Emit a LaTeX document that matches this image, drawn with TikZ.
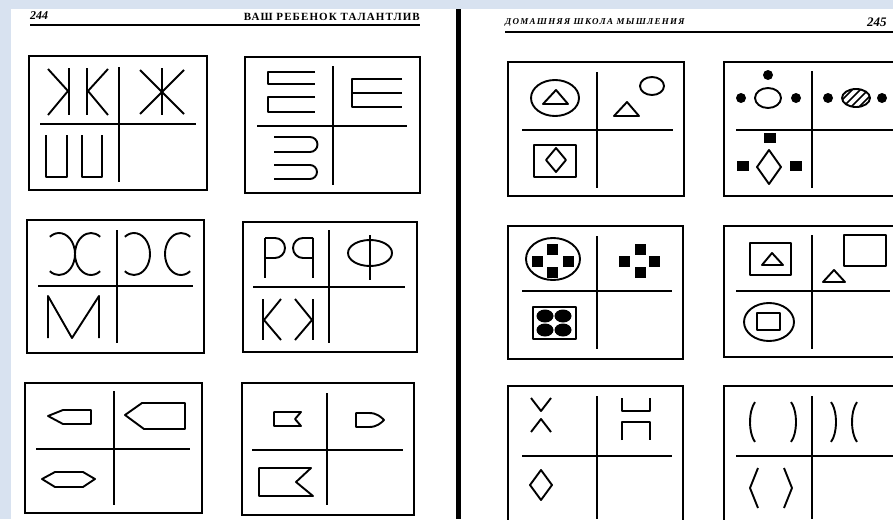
\documentclass[tikz,border=0pt]{standalone}
\usepackage{fontspec}
\setmainfont{Liberation Serif}
\usetikzlibrary{positioning}

\definecolor{slideblue}{RGB}{216,226,240}

\tikzset{
  boxframe/.style={line width=2.2pt},
  divider/.style={line width=2pt},
  glyph/.style={line width=1.9pt, line join=round},
  blob/.style={fill=black},
  headrule/.style={line width=1.8pt},
  headfont/.style={inner sep=0pt, font=\fontsize{11}{12}\selectfont\bfseries\addfontfeature{LetterSpace=10}},
}

\begin{document}
\begin{tikzpicture}[x=1pt, y=-1pt]
    \useasboundingbox (0,0) rectangle (893,519);
    \clip (0,0) rectangle (893,519);

    % Slide background, the two scanned pages and the spine
    \fill[slideblue] (0,0) rectangle (893,519);
    \fill[white] (11,9) rectangle (893,519);
    \fill[black] (456,9) rectangle (461,519);

    % Running heads
    \node[headfont, anchor=west, font=\fontsize{12}{13}\selectfont\bfseries\itshape] (pageleft) at (30,16) {244};
    \node[headfont, anchor=east] (headleft) at (420,17) {ВАШ РЕБЕНОК ТАЛАНТЛИВ};
    \draw[headrule] (30,25) -- (420,25);
    \node[headfont, anchor=west, font=\fontsize{9}{10}\selectfont\bfseries\itshape\addfontfeature{LetterSpace=14}] (headright) at (505,22) {ДОМАШНЯЯ ШКОЛА МЫШЛЕНИЯ};
    \node[headfont, anchor=west, font=\fontsize{13}{14}\selectfont\bfseries\itshape] (pageright) at (867,22) {245};
    \draw[headrule] (505,32) -- (893,32);

    % Card 1: halves of Zh
    \draw[boxframe] (29,56) rectangle (207,190);
    \draw[divider] (40,124) -- (196,124);
    \draw[divider] (119,67) -- (119,182);
    \draw[glyph] (69,68) -- (69,115);
    \draw[glyph] (48,69) -- (68,91) -- (48,115);
    \draw[glyph] (87,68) -- (87,115);
    \draw[glyph] (108,69) -- (88,91) -- (108,115);
    \draw[glyph] (162,68) -- (162,115);
    \draw[glyph] (140,70) -- (184,114);
    \draw[glyph] (184,70) -- (140,114);
    \draw[glyph] (46,135) -- (46,177) -- (67,177) -- (67,135);
    \draw[glyph] (82,135) -- (82,177) -- (102,177) -- (102,135);

    % Card 2: stacked brackets
    \draw[boxframe] (245,57) rectangle (420,193);
    \draw[divider] (257,126) -- (407,126);
    \draw[divider] (333,66) -- (333,185);
    \draw[glyph] (315,72) -- (268,72) -- (268,84) -- (315,84);
    \draw[glyph] (315,97) -- (268,97) -- (268,112) -- (315,112);
    \draw[glyph] (402,79) -- (352,79) -- (352,107) -- (402,107);
    \draw[glyph] (352,93) -- (402,93);
    \draw[glyph] (274,137) -- (310,137) arc[start angle=-90, end angle=90, radius=7.5] -- (274,152);
    \draw[glyph] (274,165) -- (310,165) arc[start angle=-90, end angle=90, radius=7] -- (274,179);

    % Card 3: back to back arcs
    \draw[boxframe] (27,220) rectangle (204,353);
    \draw[divider] (38,286) -- (193,286);
    \draw[divider] (117,230) -- (117,343);
    \draw[glyph] (59,254) ++(-125:16 and 21) arc[start angle=-125, end angle=125, x radius=16, y radius=21];
    \draw[glyph] (91,254) ++(55:16 and 21) arc[start angle=55, end angle=305, x radius=16, y radius=21];
    \draw[glyph] (134,254) ++(-125:16 and 21) arc[start angle=-125, end angle=125, x radius=16, y radius=21];
    \draw[glyph] (181,254) ++(55:16 and 21) arc[start angle=55, end angle=305, x radius=16, y radius=21];
    \draw[glyph] (48,338) -- (48,296) -- (72,338) -- (99,296) -- (99,338);

    % Card 4: P and its mirror
    \draw[boxframe] (243,222) rectangle (417,352);
    \draw[divider] (253,287) -- (405,287);
    \draw[divider] (329,230) -- (329,343);
    \draw[glyph] (265,238) -- (265,278);
    \draw[glyph] (265,238) -- (275,238) arc[start angle=-90, end angle=90, radius=10] -- (265,258);
    \draw[glyph] (313,238) -- (313,278);
    \draw[glyph] (313,238) -- (303,238) arc[start angle=-90, end angle=-270, radius=10] -- (313,258);
    \draw[glyph] (370,235) -- (370,280);
    \draw[glyph] (370,253) ellipse[x radius=22, y radius=13];
    \draw[glyph] (263,299) -- (263,340);
    \draw[glyph] (281,299) -- (264,320) -- (281,340);
    \draw[glyph] (313,299) -- (313,340);
    \draw[glyph] (295,299) -- (312,320) -- (295,340);

    % Card 5: arrows and hexagon
    \draw[boxframe] (25,383) rectangle (202,513);
    \draw[divider] (36,449) -- (190,449);
    \draw[divider] (114,391) -- (114,505);
    \draw[glyph] (48,416) -- (63,410) -- (91,410) -- (91,424) -- (63,424) -- cycle;
    \draw[glyph] (125,415) -- (142,403) -- (185,403) -- (185,429) -- (144,429) -- cycle;
    \draw[glyph] (42,479) -- (55,472) -- (83,472) -- (95,479) -- (83,487) -- (55,487) -- cycle;

    % Card 6: flags and bullet
    \draw[boxframe] (242,383) rectangle (414,515);
    \draw[divider] (252,450) -- (403,450);
    \draw[divider] (327,393) -- (327,505);
    \draw[glyph] (274,412) -- (301,412) -- (295,419) -- (301,426) -- (274,426) -- cycle;
    \draw[glyph] (356,413) -- (369,413) .. controls (377,413) and (381,417) .. (384,420)
        .. controls (381,423) and (377,427) .. (369,427) -- (356,427) -- cycle;
    \draw[glyph] (259,468) -- (311,468) -- (296,482) -- (313,496) -- (259,496) -- cycle;

    % Card 7: triangle in oval
    \draw[boxframe] (508,62) rectangle (684,196);
    \draw[divider] (522,130) -- (673,130);
    \draw[divider] (597,72) -- (597,188);
    \draw[glyph] (555,98) ellipse[x radius=24, y radius=18];
    \draw[glyph] (543,104) -- (568,104) -- (556,90) -- cycle;
    \draw[glyph] (652,86) ellipse[x radius=12, y radius=9];
    \draw[glyph] (614,116) -- (639,116) -- (627,102) -- cycle;
    \draw[glyph] (534,145) rectangle (576,177);
    \draw[glyph] (556,148) -- (566,160) -- (556,172) -- (546,160) -- cycle;

    % Card 8: dots round a ring
    \draw[boxframe] (724,62) rectangle (900,196);
    \draw[divider] (736,130) -- (893,130);
    \draw[divider] (812,71) -- (812,188);
    \fill[blob] (768,75) circle[radius=5];
    \fill[blob] (741,98) circle[radius=5];
    \fill[blob] (796,98) circle[radius=5];
    \draw[glyph] (768,98) ellipse[x radius=13, y radius=10];
    \fill[blob] (828,98) circle[radius=5];
    \fill[blob] (882,98) circle[radius=5];
    \begin{scope}
        \clip (856,98) ellipse[x radius=14, y radius=9];
        \draw[line width=1.5pt] (834,108) -- (854,88);
        \draw[line width=1.5pt] (842,108) -- (862,88);
        \draw[line width=1.5pt] (850,108) -- (870,88);
        \draw[line width=1.5pt] (858,108) -- (878,88);
    \end{scope}
    \draw[glyph] (856,98) ellipse[x radius=14, y radius=9];
    \fill[blob] (764,133) rectangle (776,143);
    \fill[blob] (737,161) rectangle (749,171);
    \fill[blob] (790,161) rectangle (802,171);
    \draw[glyph] (769,150) -- (781,167) -- (769,184) -- (757,167) -- cycle;

    % Card 9: squares in oval
    \draw[boxframe] (508,226) rectangle (683,359);
    \draw[divider] (522,291) -- (672,291);
    \draw[divider] (597,236) -- (597,349);
    \draw[glyph] (553,259) ellipse[x radius=27, y radius=21];
    \fill[blob] (546.5,243.5) rectangle ++(11,11);
    \fill[blob] (531.5,255.5) rectangle ++(11,11);
    \fill[blob] (562.5,255.5) rectangle ++(11,11);
    \fill[blob] (546.5,266.5) rectangle ++(11,11);
    \fill[blob] (634.5,243.5) rectangle ++(11,11);
    \fill[blob] (618.5,255.5) rectangle ++(11,11);
    \fill[blob] (648.5,255.5) rectangle ++(11,11);
    \fill[blob] (634.5,266.5) rectangle ++(11,11);
    \draw[glyph] (533,307) rectangle (576,339);
    \fill[blob] (545,316) ellipse[x radius=8.5, y radius=6.5];
    \fill[blob] (563,316) ellipse[x radius=8.5, y radius=6.5];
    \fill[blob] (545,330) ellipse[x radius=8.5, y radius=6.5];
    \fill[blob] (563,330) ellipse[x radius=8.5, y radius=6.5];

    % Card 10: triangle in square
    \draw[boxframe] (724,226) rectangle (900,357);
    \draw[divider] (736,291) -- (890,291);
    \draw[divider] (812,235) -- (812,349);
    \draw[glyph] (750,243) rectangle (791,275);
    \draw[glyph] (762,265) -- (783,265) -- (772,253) -- cycle;
    \draw[glyph] (844,235) rectangle (886,266);
    \draw[glyph] (823,282) -- (845,282) -- (834,270) -- cycle;
    \draw[glyph] (769,322) ellipse[x radius=25, y radius=19];
    \draw[glyph] (757,313) rectangle (780,330);

    % Card 11: halves of X and H
    \draw[boxframe] (508,386) rectangle (683,525);
    \draw[divider] (522,456) -- (672,456);
    \draw[divider] (597,396) -- (597,519);
    \draw[glyph] (531,398) -- (541,411) -- (551,398);
    \draw[glyph] (531,432) -- (541,419) -- (551,432);
    \draw[glyph] (622,398) -- (622,411) -- (650,411) -- (650,398);
    \draw[glyph] (622,440) -- (622,422) -- (650,422) -- (650,440);
    \draw[glyph] (541,470) -- (552,485) -- (541,500) -- (530,485) -- cycle;

    % Card 12: brackets
    \draw[boxframe] (724,386) rectangle (900,525);
    \draw[divider] (736,456) -- (893,456);
    \draw[divider] (812,396) -- (812,519);
    \draw[glyph] (760,422) ++(120:10 and 23) arc[start angle=120, end angle=240, x radius=10, y radius=23];
    \draw[glyph] (786,422) ++(-60:10 and 23) arc[start angle=-60, end angle=60, x radius=10, y radius=23];
    \draw[glyph] (826,422) ++(-60:10 and 23) arc[start angle=-60, end angle=60, x radius=10, y radius=23];
    \draw[glyph] (862,422) ++(120:10 and 23) arc[start angle=120, end angle=240, x radius=10, y radius=23];
    \draw[glyph] (758,468) -- (750,488) -- (758,508);
    \draw[glyph] (784,468) -- (792,488) -- (784,508);
\end{tikzpicture}
\end{document}
